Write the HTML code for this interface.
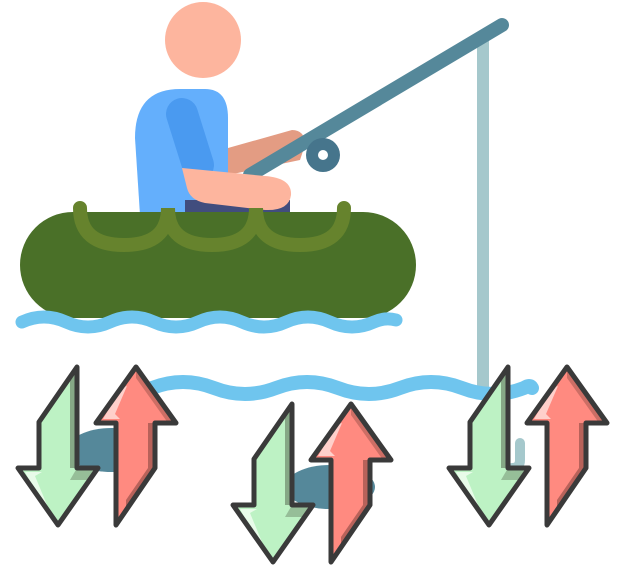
<!DOCTYPE html>
<html><head><meta charset="utf-8"><style>html,body{margin:0;padding:0;background:#fff;width:622px;height:578px;overflow:hidden}</style></head>
<body>
<svg width="622" height="578" viewBox="0 0 622 578" xmlns="http://www.w3.org/2000/svg">
  <defs>
    <g id="pair">
      <g>
        <polygon points="77,367 77,468 98,468 58,525 18,468 39,468 39,422" fill="#bdf2c4"/>
        <polygon points="70,378 70,468 77,468 77,367" fill="#86a886"/>
        <polygon points="77,468 98,468 90,480 70,480" fill="#86a886" opacity="0.7"/>
        <polygon points="25,472 42,472 35,476 47,505 41,503" fill="#e8fbe9"/>
        <polygon points="77,367 77,468 98,468 58,525 18,468 39,468 39,422" fill="none" stroke="#3a3a3a" stroke-width="5" stroke-linejoin="round"/>
      </g>
      <g>
        <polygon points="136,367 176,423 155,423 155,468 116,525 116,423 96,423" fill="#ff8a80"/>
        <polygon points="148,423 155,423 155,468 126,510 126,500 148,468" fill="#b8625a"/>
        <polygon points="136,367 176,423 168,423 136,378" fill="#b8625a" opacity="0.7"/>
        <polygon points="103,419 120,419 115,414 127,386 121,388" fill="#ffd0cb"/>
        <polygon points="136,367 176,423 155,423 155,468 116,525 116,423 96,423" fill="none" stroke="#3a3a3a" stroke-width="5" stroke-linejoin="round"/>
      </g>
    </g>
  </defs>
  <line x1="483" y1="40" x2="483" y2="392" stroke="#a5c8cc" stroke-width="12"/>
  <path d="M520,443 L520,460 Q520,468 512,468" stroke="#a5c8cc" stroke-width="10" fill="none" stroke-linecap="round"/>
  <circle cx="203" cy="40" r="38" fill="#fdb59e"/>
  <path d="M228,148 L292,130 Q305,130 305,145 L300,160 L228,175 Z" fill="#e39c83"/>
  <path d="M140,215 L135,138 Q135,89 180,89 L205,89 Q228,89 228,118 L228,215 Z" fill="#64affc"/>
  <line x1="182" y1="114" x2="198" y2="165" stroke="#4a9af0" stroke-width="32" stroke-linecap="round"/>
  <line x1="250" y1="175" x2="502" y2="25" stroke="#55889a" stroke-width="14" stroke-linecap="round"/>
  <circle cx="323" cy="155" r="17" fill="#46758c"/>
  <circle cx="323" cy="155" r="5" fill="#fff"/>
  <rect x="185" y="200" width="105" height="18" fill="#414d7e"/>
  <path d="M182,168 L265,176 Q292,178 291,195 Q289,211 265,210 L205,203 Q190,200 187,188 Z" fill="#fdb59e"/>
  <rect x="20" y="212" width="396" height="106" rx="53" fill="#4a7028"/>
  <path d="M80,208 Q80,245 124,245 Q168,245 168,208 Q168,245 212,245 Q256,245 256,208 Q256,245 300,245 Q344,245 344,208" stroke="#66832d" stroke-width="14" fill="none" stroke-linecap="round"/>
  <path d="M22,322 q22,-10 44,0 t44,0 t44,0 t44,0 t44,0 t44,0 t44,0 t44,0 q11,-5 22,-2" stroke="#6fc5ee" stroke-width="13" fill="none" stroke-linecap="round"/>
  <path d="M152,388 q31,-12 62,0 t62,0 t62,0 t62,0 t62,0 t62,0 q6,-4 8,0" stroke="#6fc5ee" stroke-width="14" fill="none" stroke-linecap="round"/>
  <ellipse cx="112" cy="450" rx="45" ry="22" fill="#55889a"/>
  <ellipse cx="330" cy="487" rx="45" ry="22" fill="#55889a"/>
  <use href="#pair"/>
  <use href="#pair" transform="translate(215,37)"/>
  <use href="#pair" transform="translate(431,0)"/>
</svg>
</body></html>
